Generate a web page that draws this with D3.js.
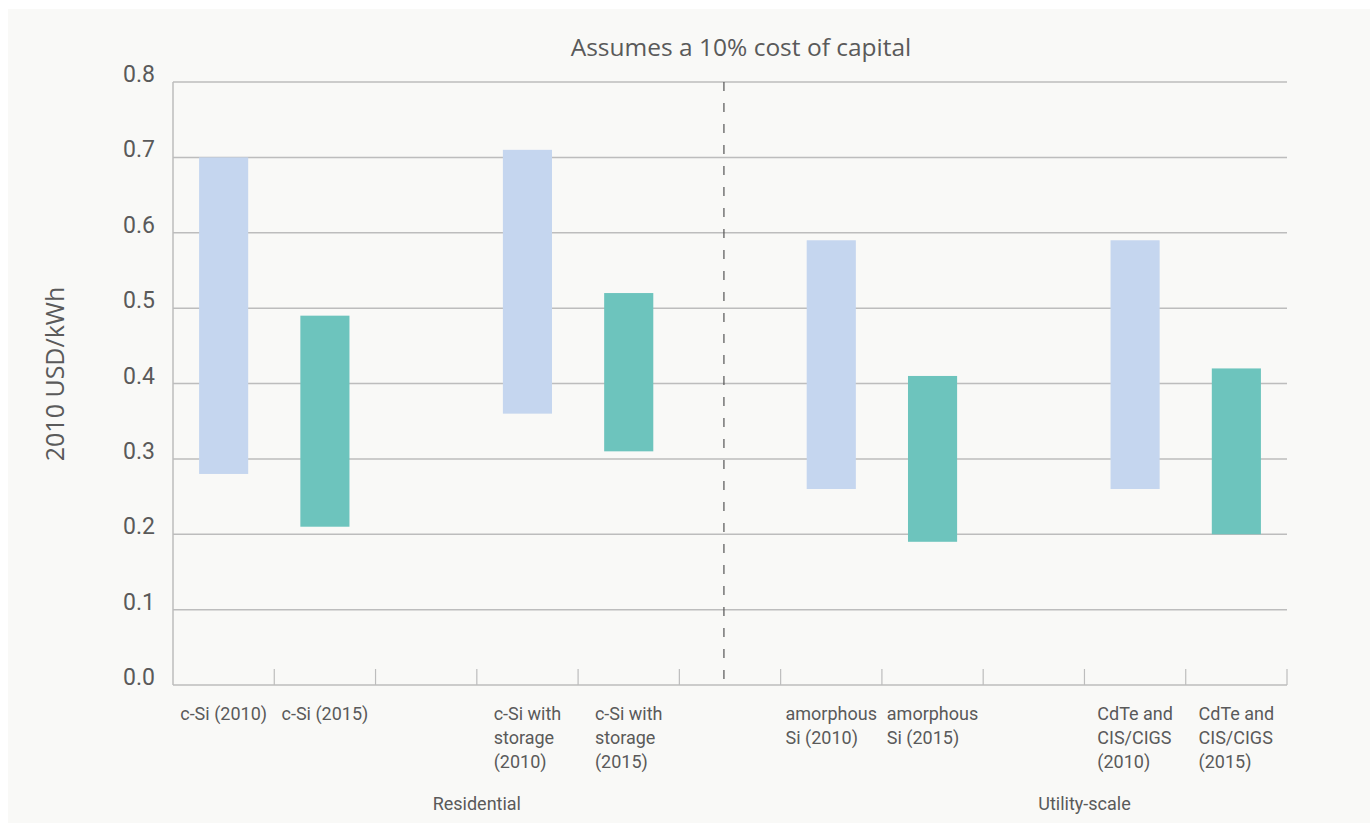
<!DOCTYPE html>
<html><head><meta charset="utf-8">
<script src="https://cdn.jsdelivr.net/npm/d3@7"></script>
<style>html,body{margin:0;padding:0;background:#fff;}svg{display:block;}</style>
</head><body>
<svg id="c" width="1370" height="823"></svg>
<script>
// slots along the x axis ("gap" = empty spacer slot)
const categories = ["c-Si (2010)", "c-Si (2015)", "gap1", "c-Si with storage (2010)", "c-Si with storage (2015)", "gap2", "amorphous Si (2010)", "amorphous Si (2015)", "gap3", "CdTe and CIS/CIGS (2010)", "CdTe and CIS/CIGS (2015)"];
const labelLines = [["c-Si (2010)"], ["c-Si (2015)"], [], ["c-Si with", "storage", "(2010)"], ["c-Si with", "storage", "(2015)"], [], ["amorphous", "Si (2010)"], ["amorphous", "Si (2015)"], [], ["CdTe and", "CIS/CIGS", "(2010)"], ["CdTe and", "CIS/CIGS", "(2015)"]];
const barCats = ["c-Si (2010)", "c-Si (2015)", "c-Si with storage (2010)", "c-Si with storage (2015)", "amorphous Si (2010)", "amorphous Si (2015)", "CdTe and CIS/CIGS (2010)", "CdTe and CIS/CIGS (2015)"];
const lowValues  = [0.28, 0.21, 0.36, 0.31, 0.26, 0.19, 0.26, 0.20];
const highValues = [0.70, 0.49, 0.71, 0.52, 0.59, 0.41, 0.59, 0.42];
const years = ["2010", "2015", "2010", "2015", "2010", "2015", "2010", "2015"];
const yTicks = [0, 0.1, 0.2, 0.3, 0.4, 0.5, 0.6, 0.7, 0.8];
const groups = [{name: "Residential", from: "c-Si (2015)", to: "c-Si with storage (2015)"}, {name: "Utility-scale", from: "amorphous Si (2015)", to: "CdTe and CIS/CIGS (2015)"}];
const dividerAfter = "gap2"; // dashed divider falls inside this slot
const dividerFrac = 0.44;
const title = "Assumes a 10% cost of capital";
const yLabel = "2010 USD/kWh";

const colors = {"2010": "#c5d6ef", "2015": "#6dc4bd"};
const font = "Roboto, 'Open Sans', sans-serif";
const txt = "#5a5a5a";

const svg = d3.select("#c");
svg.append("rect").attr("x", 8).attr("y", 9).attr("width", 1362).attr("height", 814).attr("fill", "#f9f9f7");

const m = {l: 173, r: 1287, t: 82, b: 685};
const x = d3.scaleBand().domain(categories).range([m.l, m.r]).paddingInner(0).paddingOuter(0);
const y = d3.scaleLinear().domain([0, 0.8]).range([m.b, m.t]);
const step = x.step();
const bw = step * 0.485;

// gridlines
svg.append("g").selectAll("line").data(yTicks.filter(d => d > 0)).join("line")
  .attr("x1", m.l).attr("x2", m.r).attr("y1", d => y(d)).attr("y2", d => y(d))
  .attr("stroke", "#bdbdbd").attr("stroke-width", 1.5);

// y tick labels
svg.append("g").selectAll("text").data(yTicks).join("text")
  .attr("x", 155).attr("y", d => y(d)).attr("text-anchor", "end")
  .attr("font-family", font).attr("font-size", 23).attr("fill", txt)
  .text(d => d.toFixed(1));

// y axis line
svg.append("line").attr("x1", m.l).attr("x2", m.l).attr("y1", m.t).attr("y2", m.b)
  .attr("stroke", "#bdbdbd").attr("stroke-width", 1.5);

// bottom axis line and ticks
svg.append("line").attr("x1", m.l).attr("x2", m.r).attr("y1", m.b).attr("y2", m.b)
  .attr("stroke", "#bdbdbd").attr("stroke-width", 1.5);
const tickXs = categories.map(c => x(c) + step);
svg.append("g").selectAll("line").data(tickXs).join("line")
  .attr("x1", d => d).attr("x2", d => d).attr("y1", m.b).attr("y2", m.b - 16)
  .attr("stroke", "#bdbdbd").attr("stroke-width", 1.2);

// bars
svg.append("g").selectAll("rect").data(barCats).join("rect")
  .attr("x", (c) => x(c) + (step - bw) / 2)
  .attr("width", bw)
  .attr("y", (c, i) => y(highValues[i]))
  .attr("height", (c, i) => y(lowValues[i]) - y(highValues[i]))
  .attr("fill", (c, i) => colors[years[i]]);

// dashed divider
const dx = x(dividerAfter) + step * dividerFrac;
svg.append("line").attr("x1", dx).attr("x2", dx).attr("y1", m.t).attr("y2", m.b)
  .attr("stroke", "#555").attr("stroke-width", 1.2).attr("stroke-dasharray", "9,12");

// category labels: block centred on slot, lines left-aligned
const lg = svg.append("g");
categories.forEach((c, i) => {
  const lines = labelLines[i];
  if (!lines.length) return;
  const t = lg.append("text").attr("font-family", font).attr("font-size", 18).attr("fill", txt);
  const spans = lines.map((ln, j) => t.append("tspan").attr("x", 0).attr("y", 720 + j * 24).text(ln));
  const w = d3.max(spans, s => s.node().getComputedTextLength());
  const cx = x(c) + step / 2;
  spans.forEach(s => s.attr("x", cx - w / 2));
});

// group labels
groups.forEach(g => {
  const cx = (x(g.from) + x(g.to) + step) / 2;
  svg.append("text").attr("x", cx).attr("y", 810).attr("text-anchor", "middle")
    .attr("font-family", font).attr("font-size", 18).attr("fill", txt).text(g.name);
});

// title
svg.append("text").attr("x", 741).attr("y", 56).attr("text-anchor", "middle")
  .attr("font-family", "'Open Sans', sans-serif").attr("font-size", 24.5).attr("fill", txt).text(title);

// y label
svg.append("text").attr("transform", "translate(64,374) rotate(-90)")
  .attr("text-anchor", "middle").attr("font-family", "'Open Sans', sans-serif").attr("font-size", 25).attr("fill", txt).text(yLabel);
</script>
</body></html>
